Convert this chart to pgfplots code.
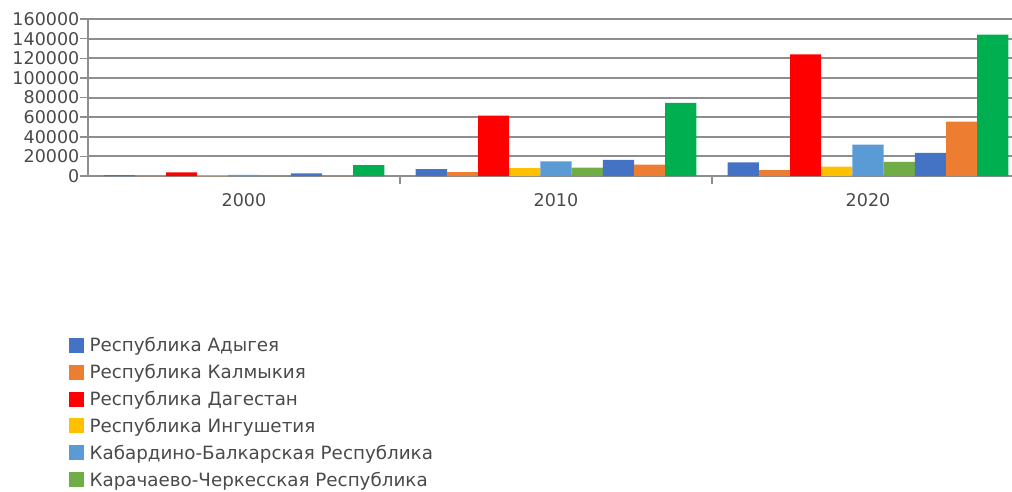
\documentclass[border=0pt]{standalone}
\usepackage{fontspec}
\setmainfont{DejaVu Sans}
\usepackage{pgfplots}
\pgfplotsset{compat=1.18}
\definecolor{cA}{HTML}{4472C4}
\definecolor{cB}{HTML}{ED7D31}
\definecolor{cC}{HTML}{FF0000}
\definecolor{cD}{HTML}{FFC000}
\definecolor{cE}{HTML}{5B9BD5}
\definecolor{cF}{HTML}{70AD47}
\definecolor{cG}{HTML}{4472C4}
\definecolor{cH}{HTML}{ED7D31}
\definecolor{cI}{HTML}{00B050}
\definecolor{gridc}{HTML}{8E8E8E}
\definecolor{txt}{HTML}{4A4A4A}
\begin{document}
\begin{tikzpicture}
% the reference is cut off on the right and at the bottom
\useasboundingbox (0,0) rectangle (1012bp,-492bp);
\clip (0,0) rectangle (1012bp,-492bp);
\begin{axis}[
    at={(88bp,-176bp)}, anchor=south west,
    scale only axis, width=936bp, height=157bp,
    ybar=0pt, bar width=0.1,
    xmin=-0.5, xmax=2.5,
    ymin=0, ymax=160000,
    xtick={0,1,2}, xticklabels={2000,2010,2020},
    minor xtick={0.5,1.5,2.5},
    ytick={0,20000,...,160000},
    scaled y ticks=false,
    /pgf/number format/.cd, fixed, set thousands separator={}, assume math mode=true, /pgfplots/.cd,
    axis lines*=left,
    axis line style={gridc, line width=2bp},
    ymajorgrids, grid style={gridc, line width=2bp},
    tick align=outside, major tick length=8bp, minor tick length=8bp,
    tick style={gridc, line width=1.5bp},
    major x tick style={draw=none},
    ticklabel style={font=\fontsize{17.5bp}{19bp}\selectfont, text=txt},
    yticklabel style={inner sep=0.5bp},
    xticklabel style={yshift=-6bp},
    legend style={at={(-0.021,-1.02)}, anchor=north west, draw=none, fill=none,
        font=\fontsize{18.3bp}{20bp}\selectfont, text=txt, row sep=9.2bp,
        inner sep=0pt, cells={anchor=west},
        nodes={inner xsep=6bp, inner ysep=1bp}},
    legend image code/.code={\fill[#1] (0bp,-7.5bp) rectangle (15bp,7.5bp);},
]
\addplot[fill=cA, draw=none] coordinates {(0,1000) (1,7000) (2,14000)};
\addplot[fill=cB, draw=none] coordinates {(0,600) (1,4000) (2,6000)};
\addplot[fill=cC, draw=none] coordinates {(0,3800) (1,61500) (2,124000)};
\addplot[fill=cD, draw=none] coordinates {(0,600) (1,8000) (2,9500)};
\addplot[fill=cE, draw=none] coordinates {(0,1200) (1,15000) (2,32000)};
\addplot[fill=cF, draw=none] coordinates {(0,1000) (1,8500) (2,14500)};
\addplot[fill=cG, draw=none] coordinates {(0,2800) (1,16500) (2,23500)};
\addplot[fill=cH, draw=none] coordinates {(0,300) (1,11500) (2,55500)};
\addplot[fill=cI, draw=none] coordinates {(0,11000) (1,74500) (2,144000)};
\legend{Республика Адыгея, Республика Калмыкия, Республика Дагестан,
    Республика Ингушетия, Кабардино-Балкарская Республика,
    Карачаево-Черкесская Республика, Республика Северная Осетия – Алания,
    Чеченская Республика, Ставропольский край}
\end{axis}
\end{tikzpicture}
\end{document}
